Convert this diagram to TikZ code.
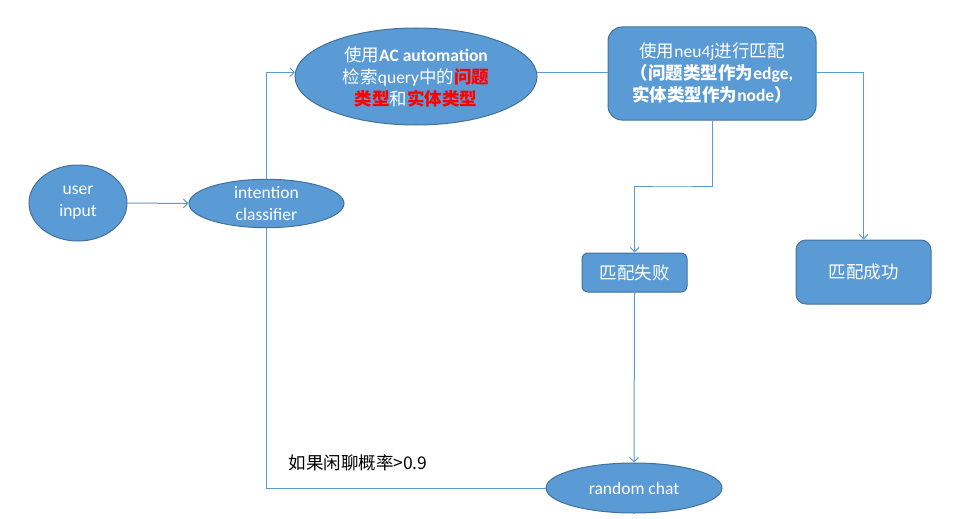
\documentclass[tikz,border=0pt]{standalone}
\usepackage{fontspec}
\setmainfont{Carlito}
\newfontfamily\cjk{Noto Sans CJK SC}
\usetikzlibrary{shapes.geometric,arrows.meta,calc}
\definecolor{fillc}{HTML}{5B9BD5}
\definecolor{bordc}{HTML}{41719C}
\definecolor{linec}{HTML}{5B9BD5}
\newcommand\zh[1]{{\cjk #1}}
\newcommand\rd[1]{{\color{red}\cjk\bfseries #1}}
\tikzset{
  shp/.style={draw=bordc, fill=fillc, line width=1pt, text=white, inner sep=0pt, align=center,
     font=\fontsize{17.5}{22}\selectfont},
  ell/.style={shp, ellipse},
  rbox/.style={shp, rectangle, rounded corners=#1},
  conn/.style={draw=linec, line width=1pt},
  arr/.style={conn, -{Straight Barb[length=4.5pt,width=9pt]}}
}
\begin{document}
\begin{tikzpicture}[x=1pt,y=-1pt]
\useasboundingbox (0,0) rectangle (953,519);
\node[ell, minimum width=98pt, minimum height=76pt] (user) at (78,203) {user\\input};
\node[ell, minimum width=155pt, minimum height=47pt] (cls) at (266.5,203.5) {intention\\classifier};
\node[ell, minimum width=242pt, minimum height=97pt] (ac) at (416,76.5)
  {\zh{使用}\textbf{AC automation}\\
   \zh{检索}query\zh{中的}\rd{问题}\\
   \rd{类型}\zh{和}\rd{实体类型}};
\node[rbox=14pt, minimum width=208pt, minimum height=93pt] (neu) at (712,73.5)
  {\zh{使用}neu4j\zh{进行匹配}\\
   \bfseries\zh{（问题类型作为}edge,\\
   \bfseries\zh{实体类型作为}node\zh{）}};
\node[rbox=6pt, minimum width=105pt, minimum height=39pt] (fail) at (634.5,272.5) {\zh{匹配失败}};
\node[rbox=10pt, minimum width=135pt, minimum height=64pt] (succ) at (863.5,272) {\zh{匹配成功}};
\node[ell, minimum width=176pt, minimum height=50pt] (rc) at (634,488) {random chat};
\node[font=\fontsize{17.5}{22}\selectfont\cjk, text=black, inner sep=0pt] (lbl) at (358,463) {如果闲聊概率>0.9};
\coordinate (bend) at (672,186);
\draw[arr] (user.east) -- (cls.west);
\draw[arr] (cls.north) |- (ac.178);
\draw[conn] (ac.2) -- (ac.2 -| neu.west);
\draw[arr] (ac.2 -| neu.east) -| (succ.north);
\draw[arr] (neu.south) |- (bend) -| (fail.north);
\draw[arr] (fail.south) -- (rc.north);
\draw[conn] (cls.south) |- (rc.west);
\end{tikzpicture}
\end{document}
